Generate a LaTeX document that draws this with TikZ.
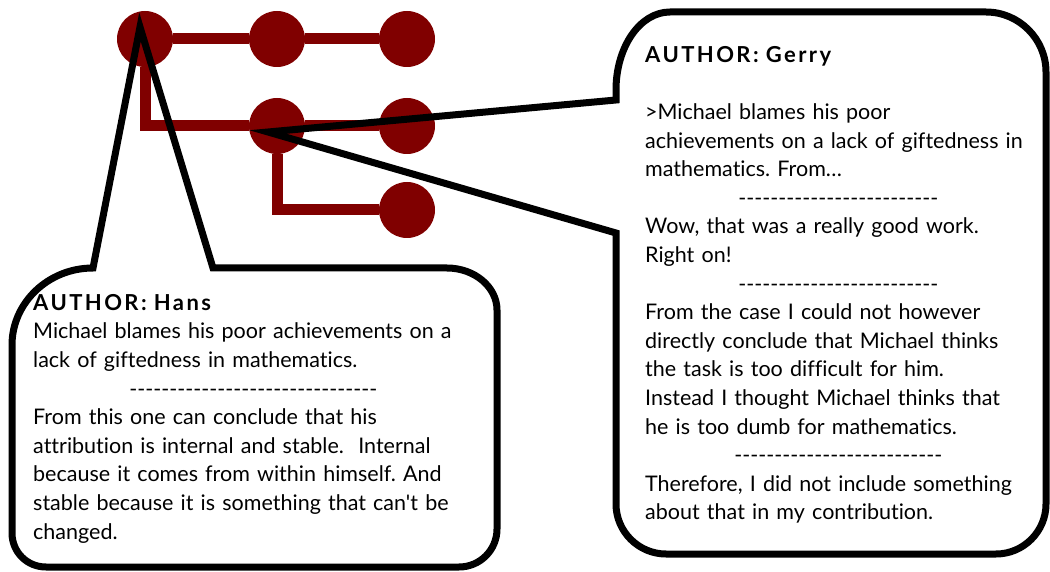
\documentclass[tikz,border=0pt]{standalone}
\usepackage{fontspec}
\setmainfont{Lato}[Ligatures={TeXOff,NoCommon}]
\definecolor{dred}{HTML}{800000}
\newcommand{\authorhead}[1]{{\bfseries\addfontfeature{LetterSpace=11}\fontsize{22}{28.6}\selectfont #1}}
\begin{document}
\begin{tikzpicture}[x=1pt,y=-1pt,
  dot/.style={circle, fill=dred, minimum size=56pt, inner sep=0pt},
  link/.style={draw=dred, line width=11pt},
  callout/.style={draw=black, line width=7pt, line join=miter},
  txt/.style={anchor=north west, inner sep=0pt, align=left, font=\fontsize{21.5}{28.6}\selectfont\frenchspacing}]
\useasboundingbox (0,0) rectangle (1050,572);
% tree
\node[dot] (a1) at (145,39) {};
\node[dot] (a2) at (277,39) {};
\node[dot] (a3) at (407,39) {};
\node[dot] (b1) at (277,126) {};
\node[dot] (b2) at (407,126) {};
\node[dot] (c1) at (407,210) {};
\draw[link] (a1) -- (a2);
\draw[link] (a2) -- (a3);
\draw[link] (a1) |- (b1);
\draw[link] (b1) -- (b2);
\draw[link] (b1) |- (c1);
% callout Hans
\draw[callout] (250,567) -- (46,567) .. controls (27,567) and (12,552) .. (12,533)
  -- (12,345) .. controls (12,303) and (48,268) .. (93,268)
  -- (140,27) -- (213,268) -- (447,268)
  .. controls (474.5,268) and (497,287) .. (497,310)
  -- (497,529) .. controls (497,550) and (480,567) .. (459,567) -- cycle;
% callout Gerry
\draw[callout] (830,554) -- (666,554) .. controls (638.5,554) and (616,531.5) .. (616,504)
  -- (616,233) -- (268,132) -- (616,100) -- (616,90)
  .. controls (616,47) and (640,12) .. (670,12) -- (986,12)
  .. controls (1019,12) and (1046,39) .. (1046,72) -- (1046,504)
  .. controls (1046,531.5) and (1023.5,554) .. (996,554) -- cycle;
% texts
\node[txt, text width=440pt] (hans) at (33,294) {%
\authorhead{AUTHOR: Hans}\\
Michael blames his poor achievements on a\\
lack of giftedness in mathematics.\\
\makebox[\linewidth]{-------------------------------}\\
From this one can conclude that his\\
attribution is internal and stable.\ \ Internal\\
because it comes from within himself. And\\
stable because it is something that can't be\\
changed.};
\node[txt, text width=386pt] (gerry) at (645,46) {%
\authorhead{AUTHOR: Gerry}\\
\mbox{}\\
>Michael blames his poor\\
achievements on a lack of giftedness in\\
mathematics. From…\\
\makebox[\linewidth]{-------------------------}\\
Wow, that was a really good work.\\
Right on!\\
\makebox[\linewidth]{-------------------------}\\
From the case I could not however\\
directly conclude that Michael thinks\\
the task is too difficult for him.\\
Instead I thought Michael thinks that\\
he is too dumb for mathematics.\\
\makebox[\linewidth]{--------------------------}\\
Therefore, I did not include something\\
about that in my contribution.};
\end{tikzpicture}
\end{document}
